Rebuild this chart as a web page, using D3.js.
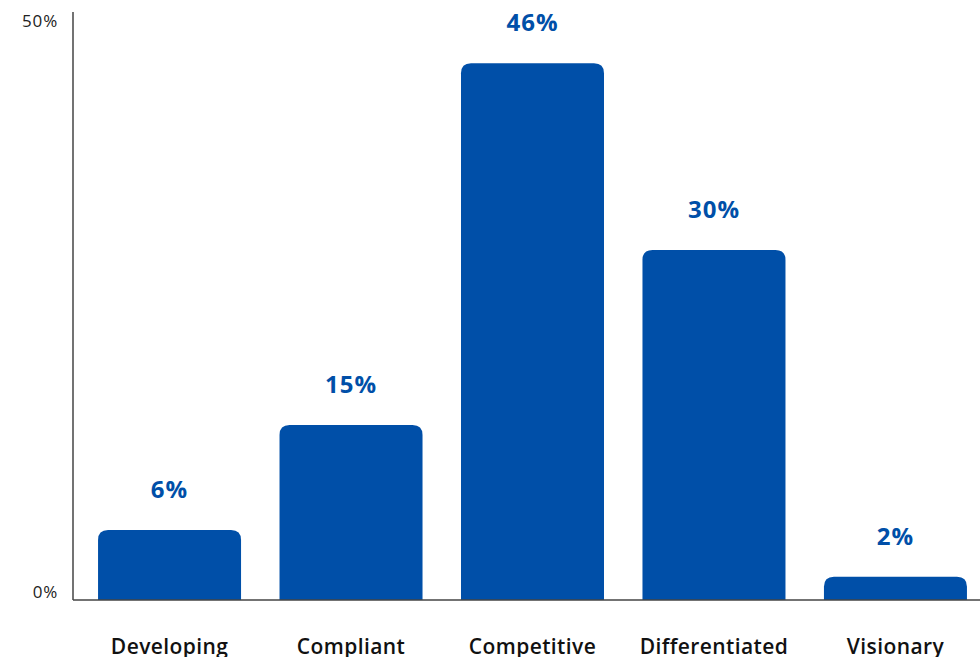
<!DOCTYPE html>
<html>
<head>
<meta charset="utf-8">
<script src="https://cdn.jsdelivr.net/npm/d3@7"></script>
<style>
  body { margin: 0; background: #fff; }
  text { font-family: "Open Sans", "Noto Sans", sans-serif; }
</style>
</head>
<body>
<div id="container"></div>
<script>
/* chart data */
var categories = ["Developing", "Compliant", "Competitive", "Differentiated", "Visionary"];
var values = [6, 15, 46, 30, 2];
var tickValues = [0, 50];

/* dimensions */
var width = 980, height = 657;
var left = 73, baseY = 600;

var svg = d3.select("#container")
            .append("svg")
            .attr("width", width)
            .attr("height", height);

var x = d3.scaleBand()
          .domain(categories)
          .range([left, 992])
          .paddingInner(0.212)
          .paddingOuter(0.138);

var y = d3.scaleLinear()
          .domain([0, 50])
          .range([baseY, 16.5]);

var blue = "#004fa8";
var r = 10;

/* bars with rounded tops */
function barPath(d, i) {
  var x0 = x(categories[i]), w = x.bandwidth();
  var y0 = y(d), y1 = y(0);
  var rr = Math.min(r, (y1 - y0));
  return "M" + x0 + "," + y1 +
         "V" + (y0 + rr) +
         "Q" + x0 + "," + y0 + " " + (x0 + rr) + "," + y0 +
         "H" + (x0 + w - rr) +
         "Q" + (x0 + w) + "," + y0 + " " + (x0 + w) + "," + (y0 + rr) +
         "V" + y1 + "Z";
}

svg.selectAll(".bar")
   .data(values)
   .enter().append("path")
     .attr("class", "bar")
     .attr("d", barPath)
     .attr("fill", blue);

/* value labels */
svg.selectAll(".val")
   .data(values)
   .enter().append("text")
     .attr("class", "val")
     .attr("x", function(d, i) { return x(categories[i]) + x.bandwidth() / 2 })
     .attr("y", function(d) { return y(d) - 32 })
     .attr("text-anchor", "middle")
     .attr("fill", blue)
     .attr("font-size", 24)
     .attr("font-weight", 700)
     .attr("letter-spacing", 1)
     .text(function(d) { return d + "%" });

/* category labels */
svg.selectAll(".cat")
   .data(categories)
   .enter().append("text")
     .attr("class", "cat")
     .attr("x", function(d) { return x(d) + x.bandwidth() / 2 })
     .attr("y", 654)
     .attr("text-anchor", "middle")
     .attr("fill", "#111")
     .attr("font-size", 21)
     .attr("font-weight", 600)
     .attr("letter-spacing", 0.4)
     .text(function(d) { return d });

/* axes */
svg.append("line")
   .attr("x1", left).attr("x2", width)
   .attr("y1", baseY).attr("y2", baseY)
   .attr("stroke", "#444").attr("stroke-width", 1.5);

svg.append("line")
   .attr("x1", left).attr("x2", left)
   .attr("y1", 12).attr("y2", baseY)
   .attr("stroke", "#444").attr("stroke-width", 1.5);

svg.selectAll(".tick")
   .data(tickValues)
   .enter().append("text")
     .attr("class", "tick")
     .attr("x", 58)
     .attr("y", function(d) { return d === 0 ? y(d) - 2 : y(d) + 10 })
     .attr("text-anchor", "end")
     .attr("fill", "#222")
     .attr("font-size", 17)
     .attr("letter-spacing", 0.8)
     .text(function(d) { return d + "%" });
</script>
</body>
</html>
